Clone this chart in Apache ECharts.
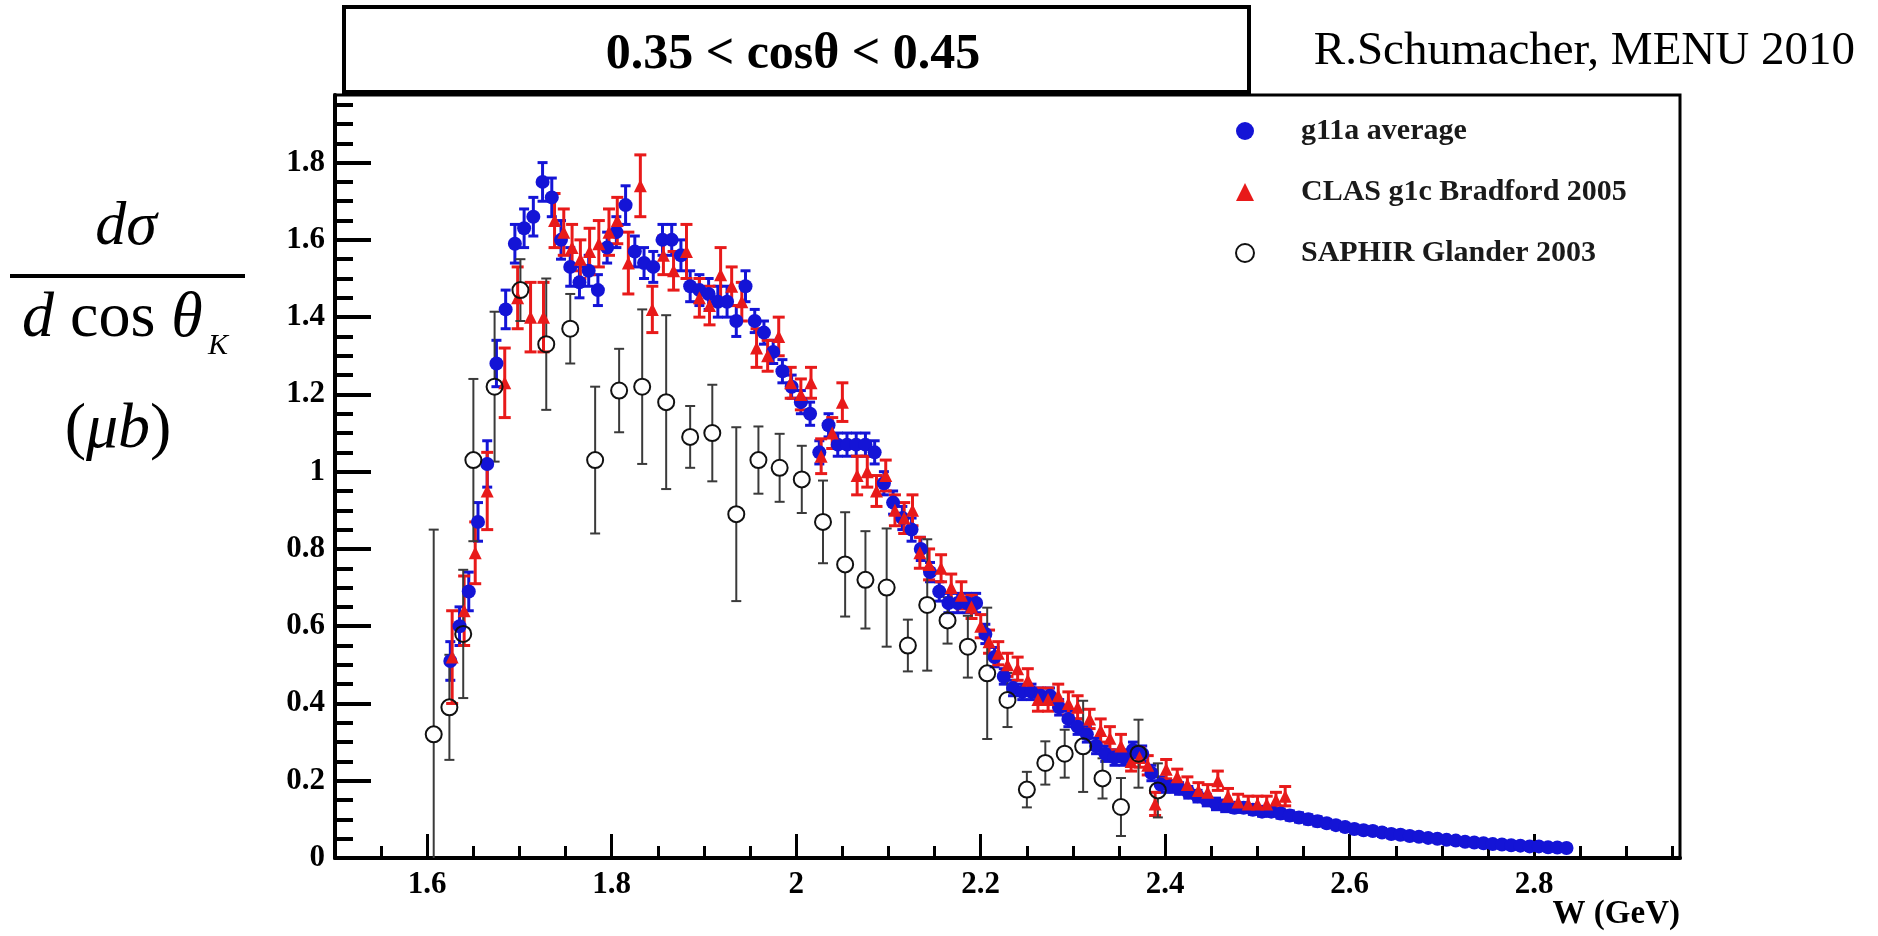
<!DOCTYPE html>
<html>
<head>
<meta charset="utf-8">
<title>dsigma/dcos vs W</title>
<script src="https://cdn.jsdelivr.net/npm/echarts@6/dist/echarts.min.js"></script>
<style>
  html, body { margin: 0; padding: 0; background: #fff; }
  #main { width: 1878px; height: 936px; }
</style>
</head>
<body>
<div id="main"></div>
<script>
// g11a average (blue dots)
var g11aW = [
  1.625, 1.635, 1.645, 1.655, 1.665, 1.675, 1.685, 1.695, 1.705, 1.715,
  1.725, 1.735, 1.745, 1.755, 1.765, 1.775, 1.785, 1.795, 1.805, 1.815,
  1.825, 1.835, 1.845, 1.855, 1.865, 1.875, 1.885, 1.895, 1.905, 1.915,
  1.925, 1.935, 1.945, 1.955, 1.965, 1.975, 1.985, 1.995, 2.005, 2.015,
  2.025, 2.035, 2.045, 2.055, 2.065, 2.075, 2.085, 2.095, 2.105, 2.115,
  2.125, 2.135, 2.145, 2.155, 2.165, 2.175, 2.185, 2.195, 2.205, 2.215,
  2.225, 2.235, 2.245, 2.255, 2.265, 2.275, 2.285, 2.295, 2.305, 2.315,
  2.325, 2.335, 2.345, 2.355, 2.365, 2.375, 2.385, 2.395, 2.405, 2.415,
  2.425, 2.435, 2.445, 2.455, 2.465, 2.475, 2.485, 2.495, 2.505, 2.515,
  2.525, 2.535, 2.545, 2.555, 2.565, 2.575, 2.585, 2.595, 2.605, 2.615,
  2.625, 2.635, 2.645, 2.655, 2.665, 2.675, 2.685, 2.695, 2.705, 2.715,
  2.725, 2.735, 2.745, 2.755, 2.765, 2.775, 2.785, 2.795, 2.805, 2.815,
  2.825, 2.835
];
var g11aVal = [
  0.51, 0.60, 0.69, 0.87, 1.02, 1.28, 1.42, 1.59, 1.63, 1.66,
  1.75, 1.71, 1.60, 1.53, 1.49, 1.52, 1.47, 1.58, 1.62, 1.69,
  1.57, 1.54, 1.53, 1.60, 1.60, 1.56, 1.48, 1.47, 1.46, 1.44,
  1.44, 1.39, 1.48, 1.39, 1.36, 1.31, 1.26, 1.22, 1.18, 1.15,
  1.05, 1.12, 1.07, 1.07, 1.07, 1.07, 1.05, 0.97, 0.92, 0.88,
  0.85, 0.80, 0.74, 0.69, 0.66, 0.66, 0.66, 0.66, 0.58, 0.52,
  0.47, 0.44, 0.43, 0.43, 0.42, 0.42, 0.39, 0.36, 0.34, 0.32,
  0.29, 0.27, 0.26, 0.26, 0.28, 0.27, 0.22, 0.19, 0.185, 0.18,
  0.17, 0.16, 0.15, 0.14, 0.135, 0.13, 0.13, 0.125, 0.12, 0.12,
  0.115, 0.11, 0.105, 0.10, 0.095, 0.09, 0.085, 0.08, 0.075, 0.072,
  0.07, 0.066, 0.062, 0.06, 0.057, 0.055, 0.052, 0.05, 0.047, 0.045,
  0.042, 0.04, 0.038, 0.036, 0.035, 0.033, 0.032, 0.03, 0.03, 0.028,
  0.027, 0.026
];
var g11aErr = [
  0.05, 0.05, 0.05, 0.05, 0.06, 0.06, 0.05, 0.05, 0.05, 0.05,
  0.05, 0.05, 0.05, 0.05, 0.04, 0.04, 0.04, 0.04, 0.04, 0.05,
  0.04, 0.04, 0.04, 0.04, 0.04, 0.04, 0.04, 0.04, 0.04, 0.04,
  0.04, 0.04, 0.04, 0.03, 0.03, 0.03, 0.03, 0.03, 0.03, 0.03,
  0.03, 0.03, 0.03, 0.03, 0.03, 0.03, 0.03, 0.03, 0.03, 0.03,
  0.03, 0.03, 0.025, 0.025, 0.025, 0.025, 0.025, 0.025, 0.025, 0.025,
  0.02, 0.02, 0.02, 0.02, 0.02, 0.02, 0.02, 0.02, 0.02, 0.02,
  0.02, 0.02, 0.02, 0.02, 0.02, 0.02, 0.02, 0.02, 0.015, 0.015,
  0.015, 0.015, 0.015, 0.015, 0.015, 0.012, 0.012, 0.012, 0.012, 0.012,
  0.012, 0.012, 0.012, 0.012, 0.012, 0.01, 0.01, 0.01, 0.01, 0.01,
  0.01, 0.01, 0.01, 0.01, 0.01, 0.008, 0.008, 0.008, 0.008, 0.008,
  0.008, 0.008, 0.008, 0.008, 0.008, 0.008, 0.008, 0.008, 0.008, 0.008,
  0.008, 0.008
];

// CLAS g1c Bradford 2005 (red triangles)
var clasW = [
  1.627, 1.640, 1.652, 1.665, 1.684, 1.698, 1.712, 1.726, 1.738, 1.748,
  1.757, 1.766, 1.776, 1.786, 1.797, 1.806, 1.818, 1.831, 1.844, 1.856,
  1.867, 1.881, 1.895, 1.906, 1.918, 1.930, 1.941, 1.957, 1.969, 1.981,
  1.994, 2.005, 2.016, 2.027, 2.039, 2.050, 2.066, 2.077, 2.087, 2.097,
  2.107, 2.117, 2.126, 2.134, 2.144, 2.157, 2.168, 2.179, 2.190, 2.200,
  2.209, 2.219, 2.229, 2.240, 2.251, 2.262, 2.273, 2.284, 2.295, 2.305,
  2.318, 2.330, 2.340, 2.352, 2.363, 2.372, 2.381, 2.389, 2.401, 2.413,
  2.424, 2.436, 2.446, 2.457, 2.468, 2.479, 2.490, 2.500, 2.510, 2.520,
  2.530
];
var clasVal = [
  0.52, 0.64, 0.79, 0.95, 1.23, 1.45, 1.40, 1.40, 1.65, 1.62,
  1.58, 1.55, 1.57, 1.59, 1.62, 1.65, 1.54, 1.74, 1.42, 1.56,
  1.52, 1.57, 1.45, 1.43, 1.51, 1.48, 1.44, 1.32, 1.30, 1.35,
  1.23, 1.20, 1.23, 1.04, 1.10, 1.18, 0.99, 1.00, 0.95, 0.99,
  0.90, 0.88, 0.90, 0.79, 0.76, 0.75, 0.70, 0.68, 0.65, 0.60,
  0.56, 0.53, 0.50, 0.49, 0.46, 0.41, 0.41, 0.42, 0.40, 0.39,
  0.36, 0.33, 0.31, 0.29, 0.25, 0.26, 0.24, 0.14, 0.23, 0.21,
  0.19, 0.175, 0.17, 0.20, 0.16, 0.145, 0.14, 0.14, 0.14, 0.15,
  0.16
];
var clasErr = [
  0.12, 0.09, 0.08, 0.10, 0.09, 0.08, 0.09, 0.09, 0.07, 0.06,
  0.06, 0.05, 0.06, 0.06, 0.06, 0.06, 0.08, 0.08, 0.06, 0.05,
  0.05, 0.07, 0.05, 0.05, 0.07, 0.05, 0.05, 0.05, 0.04, 0.05,
  0.04, 0.04, 0.04, 0.045, 0.04, 0.05, 0.05, 0.04, 0.04, 0.04,
  0.04, 0.04, 0.04, 0.04, 0.04, 0.035, 0.035, 0.035, 0.03, 0.03,
  0.03, 0.03, 0.03, 0.03, 0.03, 0.03, 0.03, 0.03, 0.03, 0.03,
  0.025, 0.03, 0.03, 0.03, 0.025, 0.025, 0.025, 0.03, 0.025, 0.02,
  0.02, 0.02, 0.02, 0.025, 0.02, 0.02, 0.02, 0.02, 0.02, 0.02,
  0.025
];

// SAPHIR Glander 2003 (open circles)
var saphirW = [
  1.607, 1.624, 1.639, 1.650, 1.673, 1.701, 1.729, 1.755, 1.782, 1.808,
  1.833, 1.859, 1.885, 1.909, 1.935, 1.959, 1.982, 2.006, 2.029, 2.053,
  2.075, 2.098, 2.121, 2.142, 2.164, 2.186, 2.207, 2.229, 2.250, 2.270,
  2.291, 2.311, 2.332, 2.352, 2.371, 2.392
];
var saphirVal = [
  0.32, 0.39, 0.58, 1.03, 1.22, 1.47, 1.33, 1.37, 1.03, 1.21,
  1.22, 1.18, 1.09, 1.10, 0.89, 1.03, 1.01, 0.98, 0.87, 0.76,
  0.72, 0.70, 0.55, 0.655, 0.615, 0.547, 0.478, 0.409, 0.177, 0.246,
  0.270, 0.289, 0.206, 0.132, 0.270, 0.175
];
var saphirErr = [
  0.53, 0.136, 0.166, 0.21, 0.194, 0.08, 0.17, 0.09, 0.19, 0.108,
  0.20, 0.225, 0.08, 0.125, 0.225, 0.087, 0.088, 0.087, 0.107, 0.135,
  0.126, 0.153, 0.067, 0.17, 0.06, 0.08, 0.17, 0.07, 0.046, 0.056,
  0.062, 0.118, 0.052, 0.075, 0.088, 0.07
];

// axis ticks
var xMajorTicks = [1.6, 1.8, 2.0, 2.2, 2.4, 2.6, 2.8];
var xMinorTicks = [1.55, 1.65, 1.7, 1.75, 1.85, 1.9, 1.95, 2.05, 2.1, 2.15,
  2.25, 2.3, 2.35, 2.45, 2.5, 2.55, 2.65, 2.7, 2.75, 2.85, 2.9, 2.95];
var yMajorTicks = [0, 0.2, 0.4, 0.6, 0.8, 1.0, 1.2, 1.4, 1.6, 1.8];
var yMinorTicks = [0.05, 0.1, 0.15, 0.25, 0.3, 0.35, 0.45, 0.5, 0.55, 0.65, 0.7, 0.75,
  0.85, 0.9, 0.95, 1.05, 1.1, 1.15, 1.25, 1.3, 1.35, 1.45, 1.5, 1.55,
  1.65, 1.7, 1.75, 1.85, 1.9, 1.95];

var SERIF = '"Liberation Serif", "DejaVu Serif", serif';
var BLUE = '#1414d6';
var RED = '#e81a1a';
var BLACK = '#111';

function withErrors(ws, vals, errs) {
  return ws.map(function (w, i) {
    return [w, vals[i] - errs[i], vals[i] + errs[i], vals[i]];
  });
}

// vertical error bar with caps; gap leaves the marker hollow
function errorBars(color, width, cap, gap) {
  return function (params, api) {
    var top = api.coord([api.value(0), api.value(2)]);
    var bot = api.coord([api.value(0), api.value(1)]);
    var mid = api.coord([api.value(0), api.value(3)]);
    var st = { stroke: color, lineWidth: width, fill: null };
    var kids = [];
    if (gap > 0) {
      if (mid[1] - gap > top[1]) kids.push({ type: 'line', shape: { x1: top[0], y1: top[1], x2: top[0], y2: mid[1] - gap }, style: st });
      if (mid[1] + gap < bot[1]) kids.push({ type: 'line', shape: { x1: top[0], y1: mid[1] + gap, x2: top[0], y2: bot[1] }, style: st });
    } else {
      kids.push({ type: 'line', shape: { x1: top[0], y1: top[1], x2: bot[0], y2: bot[1] }, style: st });
    }
    kids.push({ type: 'line', shape: { x1: top[0] - cap, y1: top[1], x2: top[0] + cap, y2: top[1] }, style: st });
    kids.push({ type: 'line', shape: { x1: bot[0] - cap, y1: bot[1], x2: bot[0] + cap, y2: bot[1] }, style: st });
    return { type: 'group', children: kids };
  };
}

function tickFmt(v) {
  return String(Math.round(v * 10) / 10);
}

var chart = echarts.init(document.getElementById('main'));

var option = {
  animation: false,
  backgroundColor: '#fff',
  grid: {
    left: 335, right: 198, top: 95, bottom: 78,
    show: true, borderColor: '#000', borderWidth: 3, backgroundColor: 'transparent'
  },
  legend: {
    orient: 'vertical',
    left: 1230, top: 111,
    itemGap: 31, itemWidth: 18, itemHeight: 18,
    selectedMode: false,
    data: ['g11a average', 'CLAS g1c Bradford 2005', 'SAPHIR Glander 2003'],
    textStyle: { fontFamily: SERIF, fontWeight: 'bold', fontSize: 30, color: '#1a1a1a', padding: [0, 0, 0, 42] }
  },
  xAxis: [
    {
      type: 'value', min: 1.5, max: 2.958, position: 'bottom',
      axisLine: { onZero: false, lineStyle: { color: '#000', width: 4 } },
      axisTick: { inside: true, length: 24, customValues: xMajorTicks, lineStyle: { color: '#000', width: 3 } },
      axisLabel: { customValues: xMajorTicks, formatter: tickFmt, color: '#000', fontFamily: SERIF, fontWeight: 'bold', fontSize: 31, margin: 11 },
      splitLine: { show: false }
    },
    {
      type: 'value', min: 1.5, max: 2.958, position: 'bottom',
      axisLine: { show: false, onZero: false },
      axisTick: { inside: true, length: 12, customValues: xMinorTicks, lineStyle: { color: '#000', width: 3 } },
      axisLabel: { show: false },
      splitLine: { show: false }
    }
  ],
  yAxis: [
    {
      type: 'value', min: 0, max: 1.975, position: 'left',
      axisLine: { onZero: false, lineStyle: { color: '#000', width: 4 } },
      axisTick: { inside: true, length: 36, customValues: yMajorTicks, lineStyle: { color: '#000', width: 4 } },
      axisLabel: { customValues: yMajorTicks, formatter: tickFmt, color: '#000', fontFamily: SERIF, fontWeight: 'bold', fontSize: 31, margin: 10 },
      splitLine: { show: false }
    },
    {
      type: 'value', min: 0, max: 1.975, position: 'left',
      axisLine: { show: false, onZero: false },
      axisTick: { inside: true, length: 18, customValues: yMinorTicks, lineStyle: { color: '#000', width: 4 } },
      axisLabel: { show: false },
      splitLine: { show: false }
    }
  ],
  series: [
    {
      name: 'g11a bars', type: 'custom', clip: true,
      renderItem: errorBars(BLUE, 3, 5, 0),
      encode: { x: 0, y: [1, 2] },
      data: withErrors(g11aW, g11aVal, g11aErr)
    },
    {
      name: 'g11a average', type: 'scatter', clip: true,
      symbol: 'circle', symbolSize: 14,
      itemStyle: { color: BLUE, opacity: 1 },
      data: g11aW.map(function (w, i) { return [w, g11aVal[i]]; })
    },
    {
      name: 'CLAS bars', type: 'custom', clip: true,
      renderItem: errorBars(RED, 3, 6, 0),
      encode: { x: 0, y: [1, 2] },
      data: withErrors(clasW, clasVal, clasErr)
    },
    {
      name: 'CLAS g1c Bradford 2005', type: 'scatter', clip: true,
      symbol: 'triangle', symbolSize: 13,
      itemStyle: { color: RED, opacity: 1 },
      data: clasW.map(function (w, i) { return [w, clasVal[i]]; })
    },
    {
      name: 'SAPHIR bars', type: 'custom', clip: true,
      renderItem: errorBars('#3a3a3a', 2, 5, 8),
      encode: { x: 0, y: [1, 2] },
      data: withErrors(saphirW, saphirVal, saphirErr)
    },
    {
      name: 'SAPHIR Glander 2003', type: 'scatter', clip: true,
      symbol: 'circle', symbolSize: 16,
      itemStyle: { color: 'rgba(255,255,255,0)', borderColor: BLACK, borderWidth: 2, opacity: 1 },
      data: saphirW.map(function (w, i) { return [w, saphirVal[i]]; })
    }
  ],
  graphic: [
    // title box
    {
      type: 'rect', z: 100,
      shape: { x: 344, y: 7, width: 905, height: 85 },
      style: { fill: '#fff', stroke: '#000', lineWidth: 4 }
    },
    {
      type: 'text', z: 101, x: 793, y: 55,
      style: { text: '0.35 < cos\u03b8 < 0.45', font: 'bold 50px ' + SERIF, fill: '#000', align: 'center', verticalAlign: 'middle' }
    },
    {
      type: 'text', z: 101, x: 1855, y: 52,
      style: { text: 'R.Schumacher, MENU 2010', font: '47px ' + SERIF, fill: '#000', align: 'right', verticalAlign: 'middle' }
    },
    // y axis title: d sigma / d cos theta_K  (mu b)
    {
      type: 'text', z: 101, x: 126, y: 228,
      style: { text: 'd\u03c3', font: 'italic 62px ' + SERIF, fill: '#000', align: 'center', verticalAlign: 'middle' }
    },
    {
      type: 'rect', z: 101,
      shape: { x: 10, y: 274, width: 235, height: 4 },
      style: { fill: '#000' }
    },
    {
      type: 'text', z: 101, x: 22, y: 319,
      style: {
        text: '{i|d}{r| cos }{i|\u03b8}',
        fill: '#000', align: 'left', verticalAlign: 'middle',
        rich: {
          i: { font: 'italic 64px ' + SERIF, fill: '#000' },
          r: { font: '64px ' + SERIF, fill: '#000' }
        }
      }
    },
    {
      type: 'text', z: 101, x: 208, y: 346,
      style: { text: 'K', font: 'italic 30px ' + SERIF, fill: '#000', align: 'left', verticalAlign: 'middle' }
    },
    {
      type: 'text', z: 101, x: 118, y: 430,
      style: {
        text: '{r|(}{i|\u03bcb}{r|)}',
        fill: '#000', align: 'center', verticalAlign: 'middle',
        rich: {
          i: { font: 'italic 64px ' + SERIF, fill: '#000' },
          r: { font: '64px ' + SERIF, fill: '#000' }
        }
      }
    },
    {
      type: 'text', z: 101, x: 1680, y: 914,
      style: { text: 'W (GeV)', font: 'bold 33px ' + SERIF, fill: '#000', align: 'right', verticalAlign: 'middle' }
    }
  ]
};

chart.setOption(option);
</script>
</body>
</html>
